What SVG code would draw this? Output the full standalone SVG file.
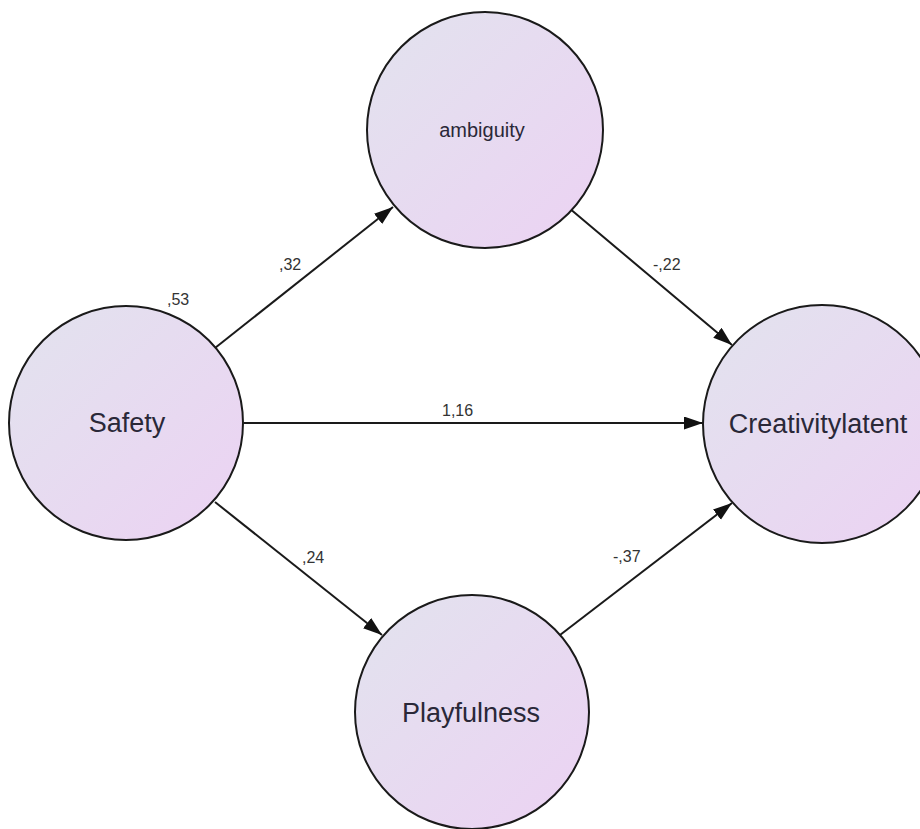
<svg xmlns="http://www.w3.org/2000/svg" width="920" height="829" viewBox="0 0 920 829">
<style>
.node{stroke:#1a1a1a;stroke-width:2;fill:url(#g)}
.nl{font-family:"Liberation Sans",Arial,sans-serif;font-size:27px;fill:#2a2838;text-anchor:middle;dominant-baseline:central}
.el{font-family:"Liberation Sans",Arial,sans-serif;font-size:16px;fill:#333}
.edge{stroke:#1a1a1a;stroke-width:2;fill:none;marker-end:url(#ah)}
</style>
<defs>
<linearGradient id="g" x1="0" y1="0" x2="1" y2="1">
<stop offset="0" stop-color="#e2e3ee"/>
<stop offset="1" stop-color="#ecd2f3"/>
</linearGradient>
<marker id="ah" markerUnits="userSpaceOnUse" markerWidth="20" markerHeight="14" refX="19" refY="6.5" orient="auto">
<path d="M0,0 L19,6.5 L0,13 Z" fill="#111"/>
</marker>
</defs>
<rect width="920" height="829" fill="#fff"/>
<g id="connectors">
<line class="edge" x1="215" y1="348" x2="393" y2="207"/>
<line class="edge" x1="244" y1="423" x2="703" y2="423"/>
<line class="edge" x1="569" y1="208" x2="732" y2="345"/>
<line class="edge" x1="215" y1="502" x2="382" y2="635"/>
<line class="edge" x1="560" y1="635" x2="732" y2="503"/>
<text class="el" x="167" y="305">,53</text>
<text class="el" x="279" y="270">,32</text>
<text class="el" x="442" y="416">1,16</text>
<text class="el" x="653" y="270">-,22</text>
<text class="el" x="302" y="563">,24</text>
<text class="el" x="613" y="562">-,37</text>
</g>
<g id="ambiguity">
<circle class="node" cx="485" cy="130" r="118"/>
<text class="nl" x="482" y="130" style="font-size:20px">ambiguity</text>
</g>
<g id="safety">
<circle class="node" cx="126" cy="423" r="117"/>
<text class="nl" x="127" y="423">Safety</text>
</g>
<g id="creativitylatent">
<circle class="node" cx="822" cy="424" r="119"/>
<text class="nl" x="818" y="424">Creativitylatent</text>
</g>
<g id="playfulness">
<circle class="node" cx="472" cy="712" r="117"/>
<text class="nl" x="471" y="713">Playfulness</text>
</g>
</svg>
